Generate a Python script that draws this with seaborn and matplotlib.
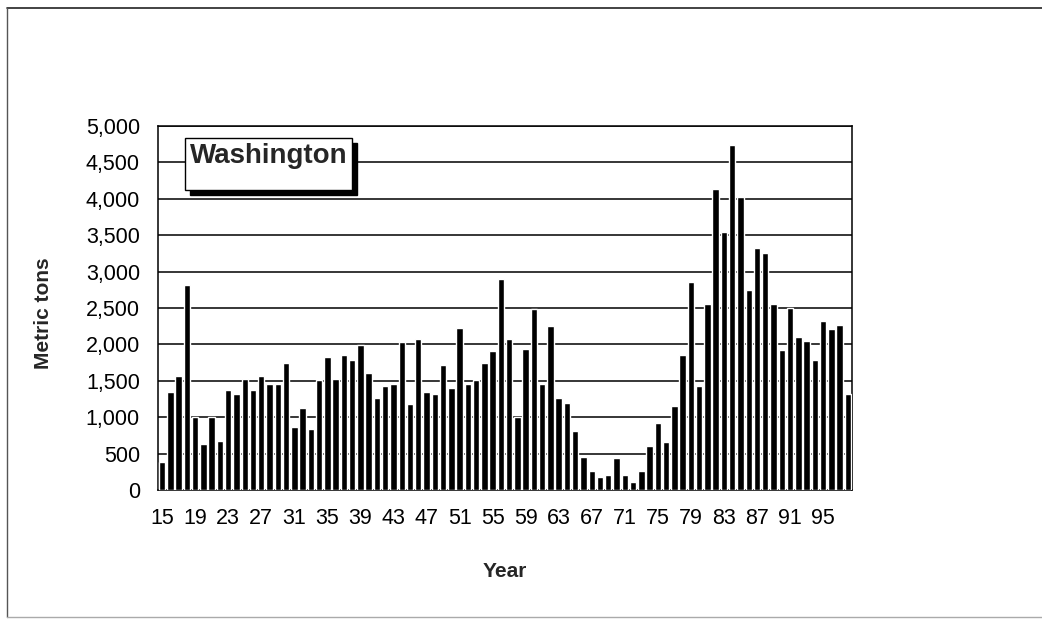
import numpy as np
import pandas as pd
import matplotlib
matplotlib.use('Agg')
import matplotlib.pyplot as plt
from matplotlib.patches import Rectangle
from matplotlib.lines import Line2D
import seaborn as sns

sns.set_style('white')
plt.rcParams['font.family'] = ['Liberation Sans', 'DejaVu Sans']

# harvest by year, 1915-1998 (metric tons)
years = list(range(1915, 1999))
tons = [380, 1340, 1570, 2820, 1000, 635, 1000, 670, 1380, 1320,
        1520, 1380, 1570, 1450, 1450, 1745, 870, 1120, 835, 1505,
        1830, 1525, 1855, 1780, 1995, 1610, 1265, 1435, 1455, 2030,
        1180, 2080, 1340, 1320, 1715, 1400, 2225, 1455, 1505, 1745,
        1915, 2895, 2080, 1000, 1940, 2485, 1455, 2250, 1260, 1195,
        805, 460, 260, 175, 205, 435, 205, 115, 260, 605,
        920, 660, 1150, 1850, 2860, 1425, 2560, 4140, 3540, 4735,
        4025, 2745, 3320, 3255, 2555, 1925, 2495, 2100, 2040, 1790,
        2325, 2210, 2265, 1325]
year_labels = [f'{y % 100:02d}' for y in years]
tick_every = 4
yticks = list(range(0, 5001, 500))
title = 'Washington'

df = pd.DataFrame({'year': year_labels, 'tons': tons})

W, H = 1042, 619
fig = plt.figure(figsize=(W / 100, H / 100), dpi=100)


def fx(px):
    return px / W


def fy(py):
    return 1 - py / H


ax = fig.add_axes([fx(158), fy(490), fx(852) - fx(158), fy(126) - fy(490)])
sns.barplot(data=df, x='year', y='tons', color='black', width=0.78,
            saturation=1, ax=ax, zorder=3)

ax.set_xlim(-0.5, len(years) - 0.5)
ax.set_ylim(0, 5000)
ax.set_yticks(yticks)
ax.set_yticklabels([f'{v:,}' for v in yticks])
ax.yaxis.grid(True, color='black', linewidth=1.1, zorder=1)
ax.xaxis.grid(False)

idx = list(range(0, len(years), tick_every))
ax.set_xticks(idx)
ax.set_xticklabels([year_labels[i] for i in idx])
ax.set_xticks(np.arange(-0.5, len(years), 1.0), minor=True)
ax.tick_params(axis='x', which='major', length=0, pad=13, labelsize=15.5)
ax.tick_params(axis='x', which='minor', length=4, width=0.8, color='black', direction='out')
ax.tick_params(axis='y', which='major', length=5, width=1, color='black',
               direction='out', labelsize=15.5, pad=8)
ax.tick_params(colors='black')

for s in ax.spines.values():
    s.set_visible(True)
    s.set_color('black')
    s.set_linewidth(1.1)

ax.set_xlabel('Year', fontsize=15, fontweight='bold')
ax.set_ylabel('Metric tons', fontsize=15, fontweight='bold')
ax.xaxis.set_label_coords((fx(505) - fx(158)) / (fx(852) - fx(158)),
                          (fy(562) - fy(490)) / (fy(126) - fy(490)))
ax.yaxis.set_label_coords((fx(53) - fx(158)) / (fx(852) - fx(158)),
                          (fy(313) - fy(490)) / (fy(126) - fy(490)))

# title box with drop shadow
bx0, by0, bx1, by1 = 185, 138, 352, 190
shadow = Rectangle((fx(bx0 + 5), fy(by1 + 5)), fx(bx1) - fx(bx0), fy(by0) - fy(by1),
                   transform=fig.transFigure, facecolor='black', edgecolor='black', zorder=10)
box = Rectangle((fx(bx0), fy(by1)), fx(bx1) - fx(bx0), fy(by0) - fy(by1),
                transform=fig.transFigure, facecolor='white', edgecolor='black',
                linewidth=1.0, zorder=11)
fig.add_artist(shadow)
fig.add_artist(box)
fig.text(fx((bx0 + bx1) / 2), fy(156), title, fontsize=20, fontweight='bold',
         ha='center', va='center', zorder=12)

# outer frame
fig.add_artist(Line2D([fx(7), 1.01], [fy(8), fy(8)], transform=fig.transFigure,
                      color='#222222', linewidth=1.2))
fig.add_artist(Line2D([fx(7), fx(7)], [fy(8), fy(617)], transform=fig.transFigure,
                      color='#555555', linewidth=1.0))
fig.add_artist(Line2D([fx(7), 1.01], [fy(617), fy(617)], transform=fig.transFigure,
                      color='#aaaaaa', linewidth=1.0))

fig.savefig('out.png', dpi=100)
